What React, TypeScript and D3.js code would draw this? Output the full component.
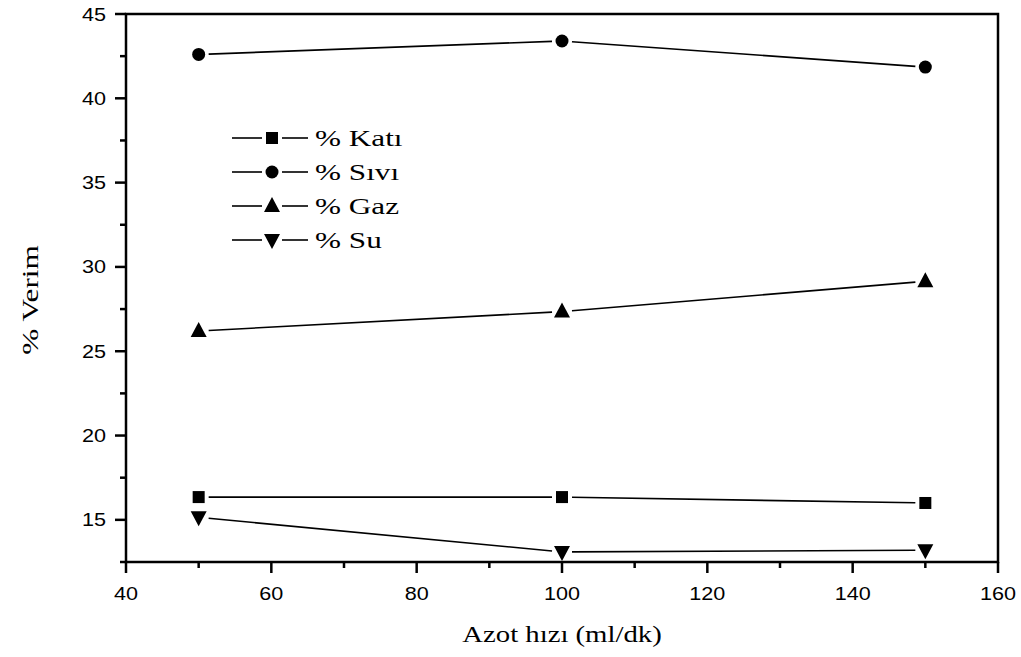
import React from "react";
import * as d3 from "d3";

const xValues = [50, 100, 150];
const kati = [16.35, 16.35, 16.0];
const sivi = [42.6, 43.4, 41.85];
const gaz = [26.2, 27.35, 29.15];
const su = [15.15, 13.1, 13.2];
const xTicks = [40, 60, 80, 100, 120, 140, 160];
const yTicks = [15, 20, 25, 30, 35, 40, 45];
const seriesNames = ["% Katı", "% Sıvı", "% Gaz", "% Su"];
const seriesShapes = ["square", "circle", "up", "down"];

const W = 1021, H = 657;
const left = 126, right = 998, top = 14, bottom = 562;
const SANS = "Liberation Sans, Arial, sans-serif";
const SERIF = "Liberation Serif, Times New Roman, serif";

function Marker({ shape, x, y }: { shape: string; x: number; y: number }) {
  if (shape === "square") return <rect x={x - 6} y={y - 6} width={12} height={12} fill="#000" />;
  if (shape === "circle") return <circle cx={x} cy={y} r={6.5} fill="#000" />;
  if (shape === "up") return <path d={`M${x},${y - 9}L${x + 8},${y + 6}L${x - 8},${y + 6}Z`} fill="#000" />;
  return <path d={`M${x},${y + 9}L${x + 8},${y - 6}L${x - 8},${y - 6}Z`} fill="#000" />;
}

export default function App() {
  const x = d3.scaleLinear().domain([40, 160]).range([left, right]);
  const y = d3.scaleLinear().domain([12.5, 45]).range([bottom, top]);
  const series = [kati, sivi, gaz, su];
  const xMinor = d3.range(50, 160, 20);
  const yMinor = d3.range(12.5, 45, 5);
  const gap = 10;

  const segs = (vals: number[]) => {
    const out: JSX.Element[] = [];
    for (let i = 0; i < vals.length - 1; i++) {
      const x1 = x(xValues[i]), y1 = y(vals[i]), x2 = x(xValues[i + 1]), y2 = y(vals[i + 1]);
      const len = Math.hypot(x2 - x1, y2 - y1);
      const ux = (x2 - x1) / len, uy = (y2 - y1) / len;
      const line = d3.line();
      out.push(
        <path key={i} d={line([[x1 + ux * gap, y1 + uy * gap], [x2 - ux * gap, y2 - uy * gap]]) || ""}
          stroke="#000" strokeWidth={1.6} fill="none" />
      );
    }
    return out;
  };

  return (
    <svg width={W} height={H} style={{ position: "absolute", left: 0, top: 0, background: "#fff" }}>
      <rect x={0} y={0} width={W} height={H} fill="#fff" />
      <rect x={left} y={top} width={right - left} height={bottom - top} fill="none" stroke="#000" strokeWidth={2.5} />
      {xTicks.map(t => (
        <g key={"xt" + t}>
          <line x1={x(t)} x2={x(t)} y1={bottom} y2={bottom + 11} stroke="#000" strokeWidth={2.5} />
          <text transform={`translate(${x(t)},${bottom + 38}) scale(1.2,1)`} textAnchor="middle" fontFamily={SANS} fontSize={18}>{t}</text>
        </g>
      ))}
      {xMinor.map(t => (
        <line key={"xm" + t} x1={x(t)} x2={x(t)} y1={bottom} y2={bottom + 6} stroke="#000" strokeWidth={2.5} />
      ))}
      {yTicks.map(t => (
        <g key={"yt" + t}>
          <line x1={left - 11} x2={left} y1={y(t)} y2={y(t)} stroke="#000" strokeWidth={2.5} />
          <text transform={`translate(${left - 20},${y(t) + 6.5}) scale(1.2,1)`} textAnchor="end" fontFamily={SANS} fontSize={18}>{t}</text>
        </g>
      ))}
      {yMinor.map(t => (
        <line key={"ym" + t} x1={left - 6} x2={left} y1={y(t)} y2={y(t)} stroke="#000" strokeWidth={2.5} />
      ))}
      {series.map((vals, si) => (
        <g key={"s" + si}>
          {segs(vals)}
          {vals.map((v, i) => <Marker key={i} shape={seriesShapes[si]} x={x(xValues[i])} y={y(v)} />)}
        </g>
      ))}
      {seriesNames.map((n, i) => {
        const ly = 138 + i * 34;
        return (
          <g key={"lg" + i}>
            <line x1={232} x2={262} y1={ly} y2={ly} stroke="#000" strokeWidth={1.6} />
            <line x1={282} x2={308} y1={ly} y2={ly} stroke="#000" strokeWidth={1.6} />
            <Marker shape={seriesShapes[i]} x={272} y={ly} />
            <text transform={`translate(315,${ly + 8}) scale(1.3,1)`} fontFamily={SERIF} fontSize={24}>{n}</text>
          </g>
        );
      })}
      <text transform={`translate(38,300) rotate(-90) scale(1.3,1)`} textAnchor="middle"
        fontFamily={SERIF} fontSize={24}>% Verim</text>
      <text transform={`translate(${(left + right) / 2},642) scale(1.25,1)`} textAnchor="middle"
        fontFamily={SERIF} fontSize={23}>Azot hızı (ml/dk)</text>
    </svg>
  );
}
